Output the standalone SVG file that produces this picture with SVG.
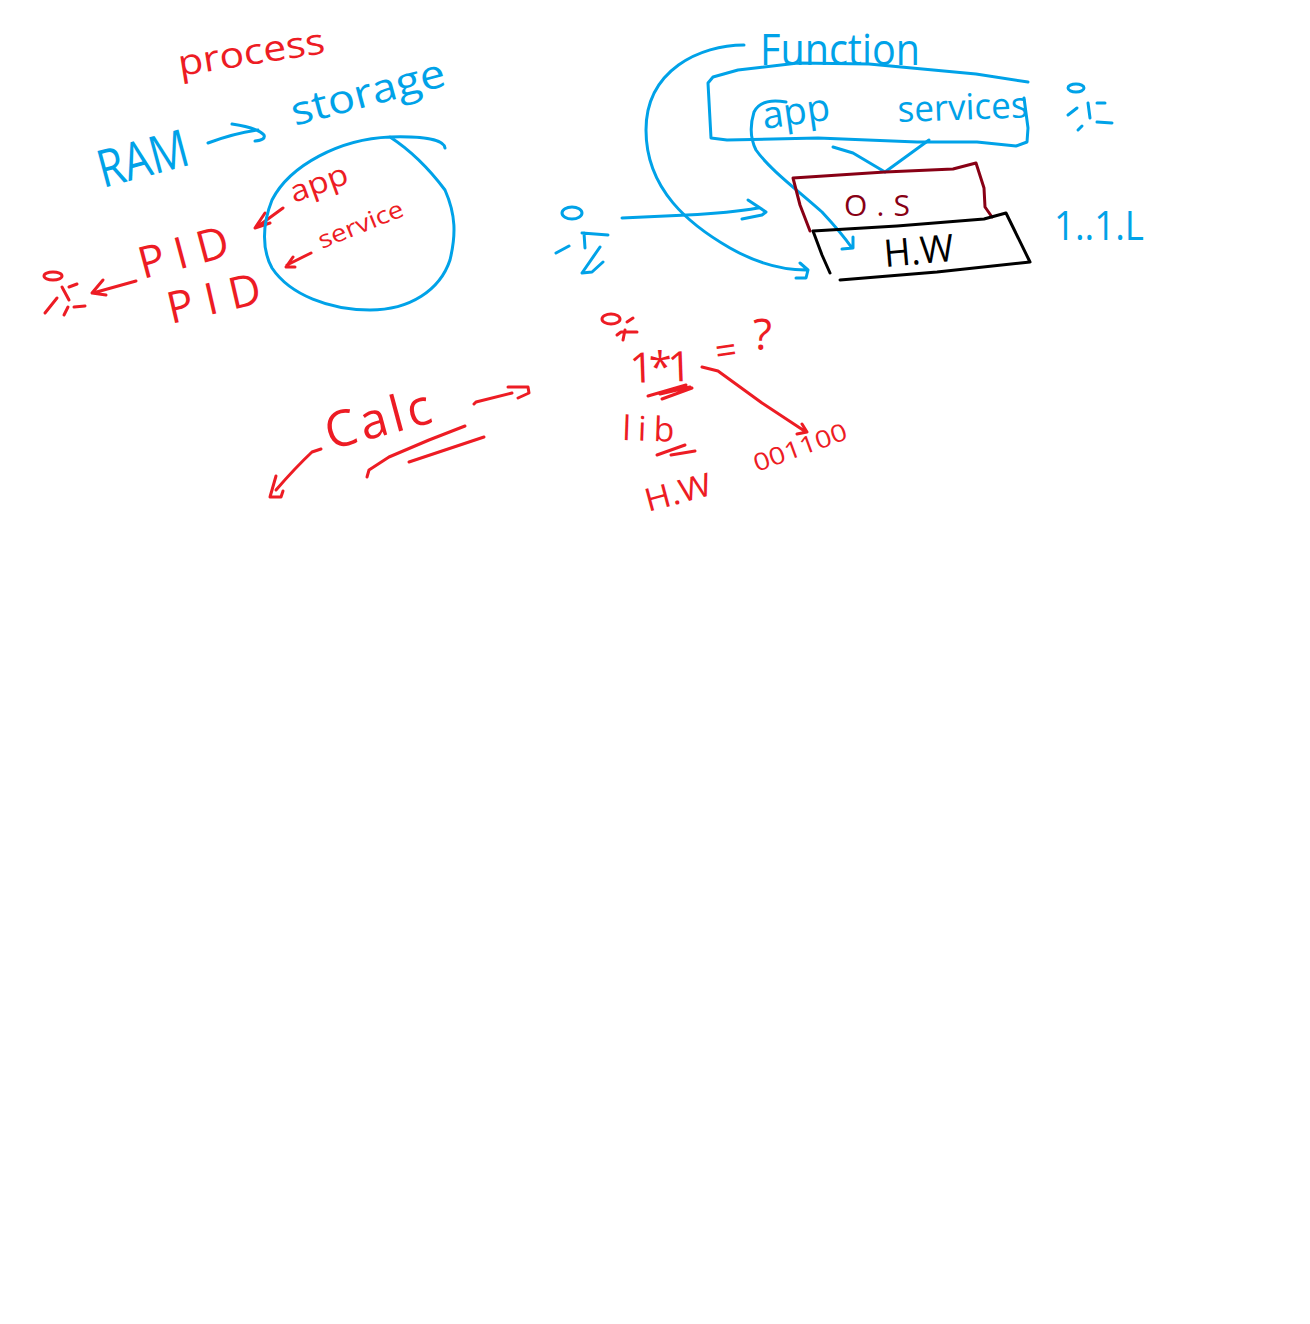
<svg xmlns="http://www.w3.org/2000/svg" width="1310" height="1324" viewBox="0 0 1310 1324">
<style>
text{font-family:"Open Sans","Liberation Sans",sans-serif;font-weight:400}
path,ellipse{fill:none;stroke-width:3;stroke-linecap:round;stroke-linejoin:round}
.b path,.b ellipse,path.b{stroke:#00a2e8}
.r path,.r ellipse,path.r{stroke:#ed1c24}
.b text{fill:#00a2e8}
.r text{fill:#ed1c24}
</style>
<rect width="1310" height="1324" fill="#ffffff"/>
<g id="connectors">
<g class="b">
<path d="M208 143Q235 133 258 130M232 124Q258 128 264 135Q266 140 255 141"/>
<path d="M744 45C700 45 646 70 646 130C646 190 690 225 730 248C760 265 785 270 806 270M800 263L808 270L806 278L796 278"/>
<path d="M786 102C775 100 760 100 754 112C750 125 750 138 756 150C770 170 800 192 822 212C835 226 845 238 852 248M853 237L853 248L842 249"/>
<path d="M622 218L687 215Q730 213 758 208M748 200L766 212L762 215L742 219"/>
<path d="M833 147L853 153L885 172L929 140"/>
</g>
<g class="r">
<path d="M283 208L257 227M265 213L255 228L270 223"/>
<path d="M311 253L287 265M293 257L286 267L295 267"/>
<path d="M136 281L93 293M103 280L92 293L106 295"/>
<path d="M474 404L476 402L512 393M508 387L528 387L529 393L518 398"/>
<path d="M321 449L312 452Q295 468 276 490M276 476L270 497L281 497L283 491"/>
<path d="M702 367L718 371L762 403L806 432M802 424L807 432L797 434"/>
</g>
</g>
<g id="storage-circle" class="b">
<path d="M445 148C444 140 425 136 390 137C340 139 290 165 272 200C262 225 262 250 272 268C290 295 330 310 370 310C410 310 440 290 450 260C456 235 456 215 445 190C430 170 410 150 390 137"/>
</g>
<g id="process" class="r"><text transform="translate(180 76) rotate(-9)" font-size="36" textLength="148" lengthAdjust="spacingAndGlyphs">process</text></g>
<g id="storage" class="b"><text transform="translate(295 126) rotate(-15)" font-size="40" textLength="158" lengthAdjust="spacingAndGlyphs">storage</text></g>
<g id="ram" class="b"><text transform="translate(103 188) rotate(-15)" font-size="52" textLength="92" lengthAdjust="spacingAndGlyphs">RAM</text></g>
<g id="circle-app" class="r"><text transform="translate(294 203) rotate(-20)" font-size="30" textLength="60" lengthAdjust="spacingAndGlyphs">app</text></g>
<g id="circle-service" class="r"><text transform="translate(322 249) rotate(-22)" font-size="24" textLength="90" lengthAdjust="spacingAndGlyphs">service</text></g>
<g id="pid-1" class="r"><text transform="translate(143 279) rotate(-15)" font-size="44" textLength="92" lengthAdjust="spacing">PID</text></g>
<g id="pid-2" class="r"><text transform="translate(171 324) rotate(-13)" font-size="44" textLength="95" lengthAdjust="spacing">PID</text></g>
<g id="figure-red-left" class="r">
<ellipse cx="53" cy="276" rx="9" ry="4"/>
<path d="M62 287L69 300M69 287L77 284M45 313L57 298M64 315L68 307M74 307L85 306"/>
</g>
<g id="calc" class="r">
<text transform="translate(330 450) rotate(-15)" font-size="50" textLength="108" lengthAdjust="spacing">Calc</text>
<path d="M367 477L369 470L389 457L429 440L465 426M409 462L484 437"/>
</g>
<g id="function" class="b"><text transform="translate(760 65)" font-size="44" textLength="160" lengthAdjust="spacingAndGlyphs">Function</text></g>
<g id="apps-box" class="b">
<path d="M1028 82L976 74L869 64L798 63L738 70L713 77L708 83L711 138L727 140L818 138L917 142L977 142L1016 146L1027 142L1028 128L1024 98"/>
<text transform="translate(764 129) rotate(-8)" font-size="38" textLength="68" lengthAdjust="spacingAndGlyphs">app</text>
<text transform="translate(898 122) rotate(-2)" font-size="36" textLength="130" lengthAdjust="spacingAndGlyphs">services</text>
</g>
<g id="os">
<path d="M810 231L800 205L793 178L885 172L953 169L976 163L984 188L985 207L992 217" fill="none" stroke="#880015"/>
<text transform="translate(844 216)" font-size="30" fill="#880015" textLength="66" lengthAdjust="spacing">O.S</text>
</g>
<g id="hw">
<path d="M830 273L822 255L813 231L897 226L984 219L1006 213L1030 262L937 272L840 280" stroke="#000000"/>
<text transform="translate(885 267) rotate(-5)" font-size="38" fill="#000000" textLength="70" lengthAdjust="spacingAndGlyphs">H.W</text>
</g>
<g id="figure-blue-left" class="b">
<ellipse cx="572" cy="213" rx="10" ry="6"/>
<path d="M556 253L569 246M582 233L608 235M584 233L585 248M600 247L582 273L592 272L603 262"/>
</g>
<g id="figure-blue-right" class="b">
<ellipse cx="1076" cy="88" rx="8" ry="4"/>
<path d="M1068 115L1077 108M1088 103L1090 118M1097 103L1105 103M1097 122L1112 123M1078 130L1082 126"/>
</g>
<g id="version" class="b"><text transform="translate(1054 240)" font-size="40" textLength="90" lengthAdjust="spacingAndGlyphs">1..1.L</text></g>
<g id="figure-red-calc" class="r">
<ellipse cx="611" cy="319" rx="9" ry="5"/>
<path d="M621 332L637 332M623 340L625 330M627 322L633 318M617 335L621 332"/>
</g>
<g id="sum" class="r">
<text transform="translate(630 383) rotate(-2)" font-size="42" textLength="62" lengthAdjust="spacing">1*1</text>
<text transform="translate(717 365) rotate(-8)" font-size="38">=</text>
<text transform="translate(753 350)" font-size="44" textLength="36" lengthAdjust="spacing">?</text>
<path d="M648 396L686 385M662 399L692 388M660 394L690 387"/>
</g>
<g id="lib" class="r">
<text transform="translate(622 440) rotate(2)" font-size="34" textLength="52" lengthAdjust="spacing">lib</text>
<path d="M657 455L685 445M671 455L695 451"/>
</g>
<g id="hw-red" class="r"><text transform="translate(648 512) rotate(-15)" font-size="32" textLength="68" lengthAdjust="spacingAndGlyphs">H.W</text></g>
<g id="binary" class="r"><text transform="translate(757 472) rotate(-20)" font-size="24" textLength="98" lengthAdjust="spacingAndGlyphs">001100</text></g>
</svg>
